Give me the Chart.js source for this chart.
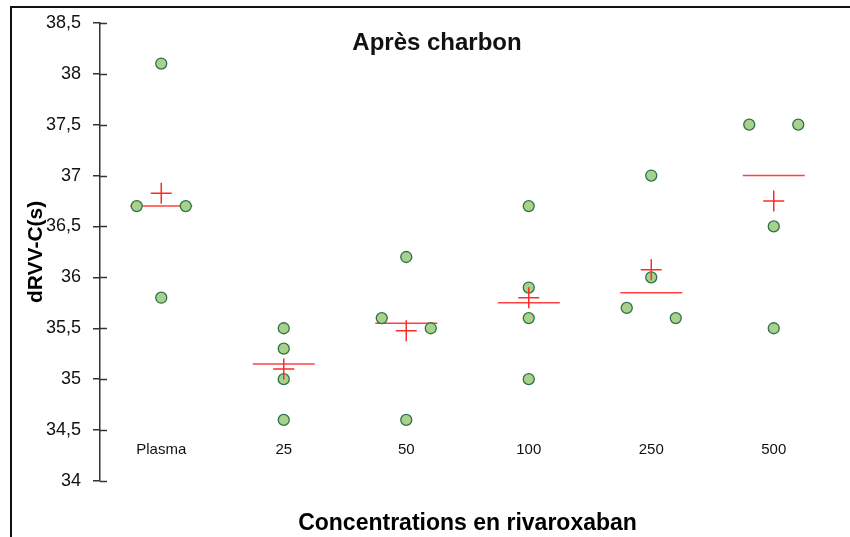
<!DOCTYPE html>
<html>
<head>
<meta charset="utf-8">
<script src="https://cdn.jsdelivr.net/npm/chart.js@4"></script>
<style>
  body { margin: 0; background: #fff; }
  #wrap { position: relative; width: 850px; height: 537px; }
  #frame { position: absolute; left: 10px; top: 6px; right: 0; bottom: 0; border-top: 2px solid #111; border-left: 2px solid #111; }
  #chart { position: absolute; left: 0; top: 0; }
</style>
</head>
<body>
<div id="wrap">
  <div id="frame"></div>
  <canvas id="chart" width="850" height="537"></canvas>
</div>
<script>
// donnees
const chartTitle = 'Après charbon';
const yTitle = 'dRVV-C(s)';
const xTitle = 'Concentrations en rivaroxaban';
const categories = ['Plasma', '25', '50', '100', '250', '500'];
const values = [
  [38.1, 36.7, 36.7, 35.8],
  [35.5, 35.3, 35.0, 34.6],
  [36.2, 35.6, 35.5, 34.6],
  [36.7, 35.9, 35.6, 35.0],
  [37.0, 36.0, 35.7, 35.6],
  [37.5, 37.5, 36.5, 35.5]
];
// decalage horizontal des points (meme valeur cote a cote)
const jitter = [
  [0, -0.2, 0.2, 0],
  [0, 0, 0, 0],
  [0, -0.2, 0.2, 0],
  [0, 0, 0, 0],
  [0, 0, -0.2, 0.2],
  [-0.2, 0.2, 0, 0]
];
const medians = [36.7, 35.15, 35.55, 35.75, 35.85, 37.0];
const means = [36.825, 35.1, 35.475, 35.8, 36.075, 36.75];
const yMin = 34, yMax = 38.5, yStep = 0.5;
const labelLevel = 34.31;

const pts = [];
values.forEach((arr, i) => arr.forEach((v, j) => pts.push({ x: i + 0.5 + jitter[i][j], y: v })));
const medPts = medians.map((v, i) => ({ x: i + 0.5, y: v }));
const meanPts = means.map((v, i) => ({ x: i + 0.5, y: v }));

const fmt = v => String(v).replace('.', ',');

const extras = {
  id: 'extras',
  afterDatasetsDraw(chart) {
    const { ctx, scales: { x, y }, chartArea } = chart;
    ctx.save();
    // petits traits a droite de l'axe
    ctx.strokeStyle = '#333';
    ctx.lineWidth = 1.5;
    y.ticks.forEach(t => {
      const py = Math.round(y.getPixelForValue(t.value)) + 0.5;
      ctx.beginPath();
      ctx.moveTo(chartArea.left, py);
      ctx.lineTo(chartArea.left + 7, py);
      ctx.stroke();
    });
    // noms des categories
    ctx.fillStyle = '#111';
    ctx.font = '15px "Liberation Sans", Arial, sans-serif';
    ctx.textAlign = 'center';
    ctx.textBaseline = 'middle';
    categories.forEach((c, i) => {
      ctx.fillText(c, x.getPixelForValue(i + 0.5), y.getPixelForValue(labelLevel));
    });
    // titre
    ctx.font = 'bold 24px "Liberation Sans", Arial, sans-serif';
    ctx.fillText(chartTitle, 437, 43);
    ctx.restore();
  }
};

new Chart(document.getElementById('chart'), {
  type: 'scatter',
  data: {
    datasets: [
      {
        label: 'Moyenne',
        data: meanPts,
        pointStyle: 'cross',
        pointRadius: 10.5,
        pointHoverRadius: 10.5,
        borderColor: '#ff2a2a',
        borderWidth: 1.5,
        order: 1
      },
      {
        label: 'Valeurs',
        data: pts,
        pointStyle: 'circle',
        pointRadius: 5.5,
        pointHoverRadius: 5.5,
        backgroundColor: '#a9d18e',
        borderColor: '#2e7345',
        borderWidth: 1.3,
        order: 2
      },
      {
        label: 'Médiane',
        data: medPts,
        pointStyle: 'line',
        pointRadius: 31,
        pointHoverRadius: 31,
        borderColor: '#ff4040',
        borderWidth: 1.5,
        order: 3
      }
    ]
  },
  options: {
    responsive: false,
    animation: false,
    layout: { autoPadding: false, padding: { left: 12, right: 15, top: 22, bottom: 0 } },
    plugins: { legend: { display: false }, tooltip: { enabled: false } },
    scales: {
      x: {
        type: 'linear',
        min: 0,
        max: categories.length,
        grid: { display: false },
        border: { display: false },
        ticks: { display: false },
        title: {
          display: true,
          text: xTitle,
          color: '#000',
          font: { family: '"Liberation Sans", Arial, sans-serif', size: 23, weight: 'bold' },
          padding: { top: 10, bottom: 0 }
        },
        afterFit(s) { s.height = 56; }
      },
      y: {
        min: yMin,
        max: yMax,
        grid: { drawOnChartArea: false, tickLength: 7, color: '#333', lineWidth: 1.5 },
        border: { display: true, color: '#333', width: 1.5 },
        ticks: {
          stepSize: yStep,
          padding: 12,
          color: '#111',
          font: { family: '"Liberation Sans", Arial, sans-serif', size: 18 },
          callback: v => fmt(v)
        },
        title: {
          display: true,
          text: yTitle,
          color: '#000',
          font: { family: '"Liberation Sans", Arial, sans-serif', size: 21, weight: 'bold' },
          padding: { top: 12, bottom: 0 }
        },
        afterFit(s) { s.width = 88; }
      }
    }
  },
  plugins: [extras]
});
</script>
</body>
</html>
